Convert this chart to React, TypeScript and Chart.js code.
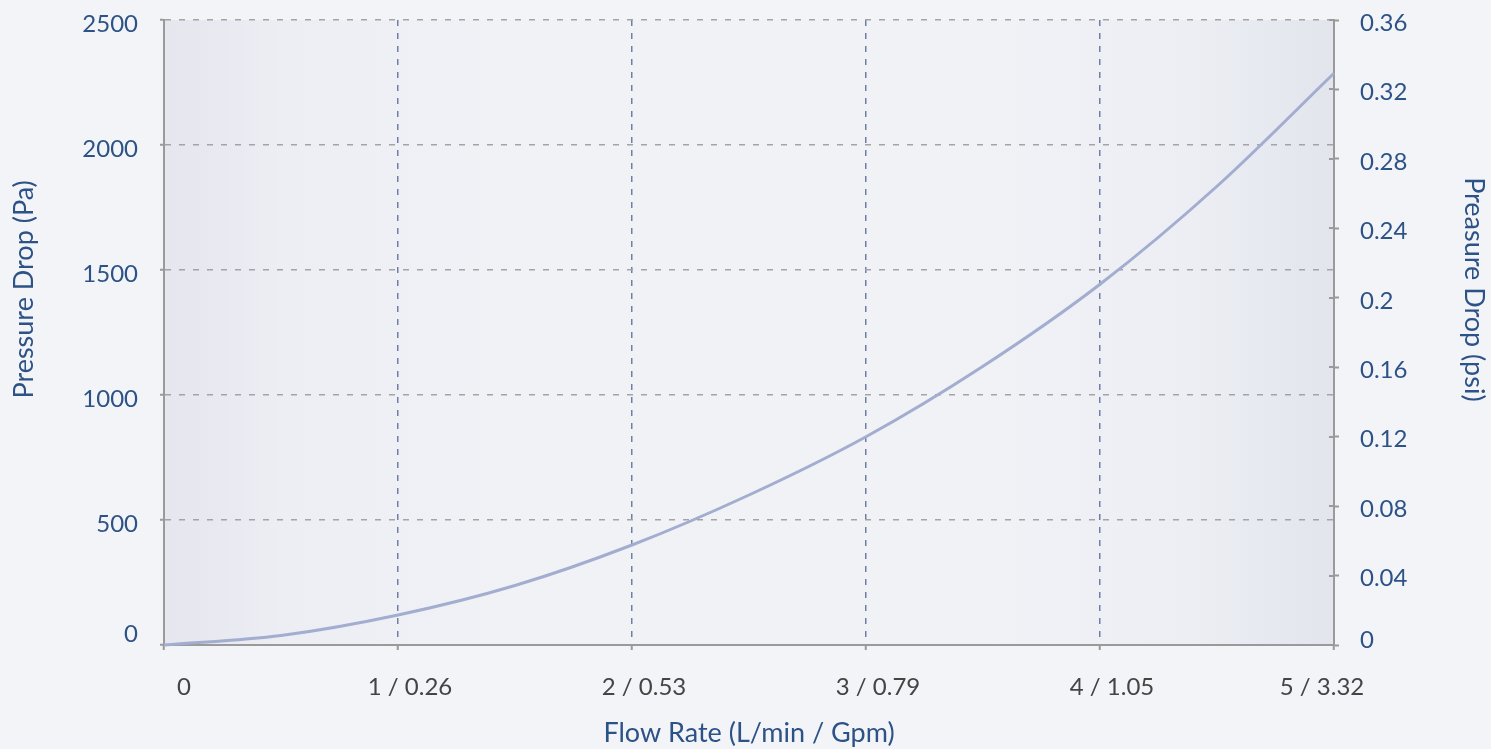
import React, { useEffect, useRef } from "react";
import { Chart, registerables } from "chart.js";

Chart.register(...registerables);

// ---- data ----
const flowRate = [0, 0.5, 1, 1.5, 2, 2.5, 3, 3.5, 4, 4.5, 5];
const pressurePa = [0, 38, 120, 238, 400, 600, 833, 1115, 1443, 1835, 2287];
const xTickLabels = ["0", "1 / 0.26", "2 / 0.53", "3 / 0.79", "4 / 1.05", "5 / 3.32"];
const paTicks = [0, 500, 1000, 1500, 2000, 2500];
const psiTicks = [0, 0.04, 0.08, 0.12, 0.16, 0.2, 0.24, 0.28, 0.32, 0.36];

const leftTitle = "Pressure Drop (Pa)";
const rightTitle = "Preasure Drop (psi)";
const bottomTitle = "Flow Rate (L/min / Gpm)";

const FONT = "Lato, 'Noto Sans', sans-serif";
const BLUE = "#2c5286";
const AXIS = "#9a9a9a";
const TITLE_SIZE = 27;

const decorPlugin = {
  id: "decor",
  afterUpdate(chart: any) {
    try {
      const a = chart.chartArea;
      const x = chart.scales.x;
      const xi = x.getLabelItems(a);
      if (xi[0]) xi[0].options.translation[0] += 8;
      if (xi[xi.length - 1]) xi[xi.length - 1].options.translation[0] -= 24;
      const y = chart.scales.y;
      const yi = y.getLabelItems(a);
      if (yi[0]) yi[0].options.translation[1] -= 15;
      const y1 = chart.scales.y1;
      const y1i = y1.getLabelItems(a);
      if (y1i[0]) y1i[0].options.translation[1] -= 8;
    } catch (e) {
      // ignore
    }
  },
  beforeDraw(chart: any) {
    const { ctx, chartArea: a, width, height } = chart;
    ctx.save();
    ctx.fillStyle = "#f3f4f8";
    ctx.fillRect(0, 0, width, height);
    const g = ctx.createLinearGradient(a.left, 0, a.right, 0);
    g.addColorStop(0, "#e5e6ee");
    g.addColorStop(0.1, "#eceef4");
    g.addColorStop(0.3, "#f1f2f6");
    g.addColorStop(0.7, "#f1f2f6");
    g.addColorStop(0.88, "#eceef4");
    g.addColorStop(1, "#e3e5ed");
    ctx.fillStyle = g;
    ctx.fillRect(a.left, a.top, a.right - a.left, a.bottom - a.top);
    ctx.restore();
  },
  beforeDatasetsDraw(chart: any) {
    const { ctx, chartArea: a } = chart;
    const y1 = chart.scales.y1;
    ctx.save();
    ctx.strokeStyle = AXIS;
    ctx.lineWidth = 2;
    y1.ticks.forEach((t: any) => {
      const py = Math.round(y1.getPixelForValue(t.value));
      ctx.beginPath();
      ctx.moveTo(a.right - 5, py);
      ctx.lineTo(a.right, py);
      ctx.stroke();
    });
    ctx.restore();
  },
  afterDraw(chart: any) {
    const { ctx, chartArea: a } = chart;
    const cy = a.top + (a.bottom - a.top) * 0.431;
    ctx.save();
    ctx.fillStyle = BLUE;
    ctx.font = `${TITLE_SIZE}px ${FONT}`;
    ctx.textAlign = "center";
    ctx.textBaseline = "middle";
    ctx.save();
    ctx.translate(a.left - 140, cy);
    ctx.rotate(-Math.PI / 2);
    ctx.fillText(leftTitle, 0, 0);
    ctx.restore();
    ctx.save();
    ctx.translate(a.right + 140, cy);
    ctx.rotate(Math.PI / 2);
    ctx.fillText(rightTitle, 0, 0);
    ctx.restore();
    ctx.restore();
  },
};

export default function App() {
  const ref = useRef<HTMLCanvasElement | null>(null);

  useEffect(() => {
    document.body.style.margin = "0";
    document.body.style.overflow = "hidden";
    if (!ref.current) return;
    Chart.defaults.font.family = FONT;

    const chart = new Chart(ref.current, {
      type: "line",
      data: {
        datasets: [
          {
            data: flowRate.map((f, i) => ({ x: f, y: pressurePa[i] })),
            borderColor: "#a2add0",
            borderWidth: 3,
            pointRadius: 0,
            fill: false,
            cubicInterpolationMode: "monotone",
            clip: false as any,
          },
        ],
      },
      plugins: [decorPlugin],
      options: {
        animation: false,
        responsive: true,
        maintainAspectRatio: false,
        layout: { padding: { top: 20, left: 0, right: 0, bottom: 0 } },
        plugins: {
          legend: { display: false },
          tooltip: { enabled: false },
        },
        scales: {
          x: {
            type: "linear",
            min: 0,
            max: 5,
            afterFit: (s: any) => {
              s.height = 104;
              s.paddingLeft = 0;
              s.paddingRight = 0;
            },
            afterBuildTicks: (s: any) => {
              s.ticks = xTickLabels.map((_, i) => ({ value: i }));
            },
            ticks: {
              callback: (v: any) => xTickLabels[Number(v)] ?? "",
              color: "#444444",
              font: { size: 24 },
              padding: 23,
              labelOffset: 12,
              maxRotation: 0,
              autoSkip: false,
            },
            grid: {
              color: "#6e7fa5",
              lineWidth: 1.5,
              tickColor: AXIS,
              tickLength: 5,
              tickWidth: 2,
            },
            border: { color: AXIS, width: 2, dash: [6, 7] },
            title: {
              display: true,
              text: bottomTitle,
              color: BLUE,
              font: { size: TITLE_SIZE },
              padding: { top: 0, bottom: 0 },
            },
          },
          y: {
            type: "linear",
            position: "left",
            min: 0,
            max: 2500,
            afterFit: (s: any) => {
              s.width = 164;
              s.paddingTop = 0;
              s.paddingBottom = 0;
            },
            afterBuildTicks: (s: any) => {
              s.ticks = paTicks.map((v) => ({ value: v }));
            },
            ticks: {
              color: BLUE,
              font: { size: 24 },
              padding: 22,
              labelOffset: 4,
              callback: (v: any) => String(v),
            },
            grid: {
              color: "#a4a4a4",
              lineWidth: 1.5,
              tickColor: AXIS,
              tickLength: 4,
              tickWidth: 2,
            },
            border: { color: AXIS, width: 2, dash: [6, 8] },
          },
          y1: {
            type: "linear",
            position: "right",
            min: 0,
            max: 0.36,
            afterFit: (s: any) => {
              s.width = 157;
              s.paddingTop = 0;
              s.paddingBottom = 0;
            },
            afterBuildTicks: (s: any) => {
              s.ticks = psiTicks.map((v) => ({ value: v }));
            },
            ticks: {
              color: BLUE,
              font: { size: 24 },
              padding: 21,
              labelOffset: 3,
              callback: (v: any) => String(+Number(v).toFixed(2)),
            },
            grid: {
              drawOnChartArea: false,
              tickColor: AXIS,
              tickLength: 5,
              tickWidth: 2,
            },
            border: { color: AXIS, width: 2 },
          },
        },
      } as any,
    });
    return () => chart.destroy();
  }, []);

  return (
    <div style={{ width: "1491px", height: "749px", position: "relative" }}>
      <canvas ref={ref} />
    </div>
  );
}
